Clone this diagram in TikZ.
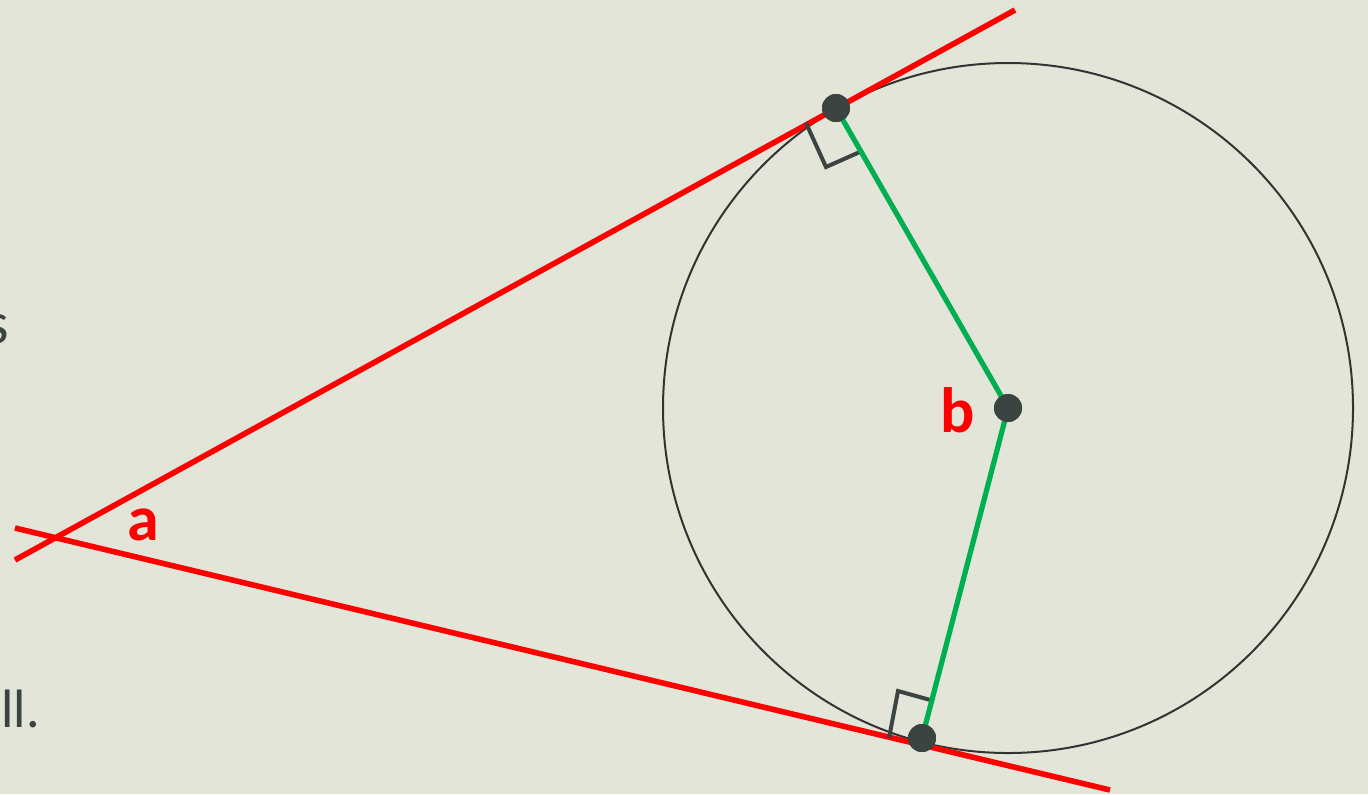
\documentclass[tikz,border=0pt]{standalone}
\usepackage{fontspec}
\setmainfont{Carlito}
\definecolor{bg}{HTML}{E2E5D8}
\definecolor{dark}{HTML}{3C4442}
\definecolor{circ}{HTML}{333333}
\definecolor{tred}{HTML}{FF0000}
\definecolor{tgreen}{HTML}{00B050}
\tikzset{
  redline/.style={draw=tred, line width=2.8pt},
  greenline/.style={draw=tgreen, line width=2.6pt},
  rmark/.style={draw=dark, line width=2pt},
  pdot/.style={circle, fill=dark, inner sep=0pt, minimum size=14pt},
  lbl/.style={text=tred, font=\bfseries\fontsize{32}{36}\selectfont, inner sep=0pt},
  side/.style={text=dark, inner sep=0pt}
}
\begin{document}
\begin{tikzpicture}[x=0.5pt, y=-0.5pt]
\fill[bg] (0,0) rectangle (1368,794);
\useasboundingbox (0,0) rectangle (1368,794);
% partially visible text on left
\node[side, anchor=base east, font=\fontsize{30}{34}\selectfont] (s) at (9,343) {s};
\node[side, anchor=base west, font=\fontsize{27}{30}\selectfont] (ll) at (1,727) {ll.};
% circle
\node[draw=circ, line width=1pt, circle, minimum size=345pt, inner sep=0pt] (circ) at (1008,408) {};
% coordinates
\coordinate (t1a) at (15,560);
\coordinate (t1b) at (1015,10);
\coordinate (t2a) at (15,528);
\coordinate (t2b) at (1110,790);
% tangent lines
\draw[redline] (t1a) -- (t1b);
\draw[redline] (t2a) -- (t2b);
% right angle marks
\coordinate (m1a) at (806,123);
\coordinate (m1b) at (826,167);
\coordinate (m1c) at (862,151);
\draw[rmark] (m1a) -- (m1b) -- (m1c);
\coordinate (m2a) at (889,738);
\coordinate (m2b) at (898,691);
\coordinate (m2c) at (934,701);
\draw[rmark] (m2a) -- (m2b) -- (m2c);
% points
\node[pdot] (T1) at (836,108) {};
\node[pdot] (O) at (1008,408) {};
\node[pdot] (T2) at (922,738) {};
% radii
\draw[greenline] (T1.center) -- (O.center);
\draw[greenline] (O.center) -- (T2.center);
\node[pdot] at (T1) {};
\node[pdot] at (O) {};
\node[pdot] at (T2) {};
% labels
\node[lbl] (la) at (143,525) {a};
\node[lbl] (lb) at (958,410) {b};
\end{tikzpicture}
\end{document}
